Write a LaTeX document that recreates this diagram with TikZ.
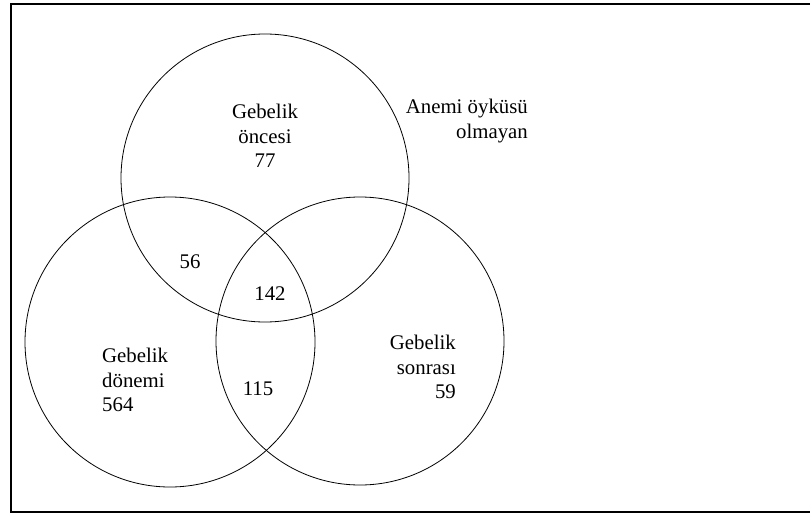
\documentclass[tikz,border=0pt]{standalone}
\usepackage{fontspec}
\setmainfont{Liberation Serif}
\begin{document}
\begin{tikzpicture}[x=1pt,y=-1pt,
  setc/.style={circle,draw,line width=0.8pt,minimum size=288pt,inner sep=0pt},
  lbl/.style={font=\fontsize{20.8}{24.5}\selectfont,inner sep=0pt}]
\useasboundingbox (0,0) rectangle (810,513);
\draw[line width=1.6pt] (812,4) -- (11,4) -- (11,512) -- (812,512);
\node[setc] (top) at (265,178) {};
\node[setc,minimum size=290pt] (left) at (170,342) {};
\node[setc,minimum size=288pt] (right) at (360,341) {};
\node[lbl,align=center] (tl) at (265,136) {Gebelik\\öncesi\\77};
\node[lbl,align=right,anchor=east] (an) at (528,121) {Anemi öyküsü\\olmayan};
\node[lbl] (n56) at (190,262) {56};
\node[lbl] (n142) at (270,294) {142};
\node[lbl,align=left,anchor=west] (ll) at (102,380) {Gebelik\\dönemi\\564};
\node[lbl] (n115) at (258,389) {115};
\node[lbl,align=right,anchor=east] (rl) at (456,367) {Gebelik\\sonrası\\59};
\end{tikzpicture}
\end{document}
